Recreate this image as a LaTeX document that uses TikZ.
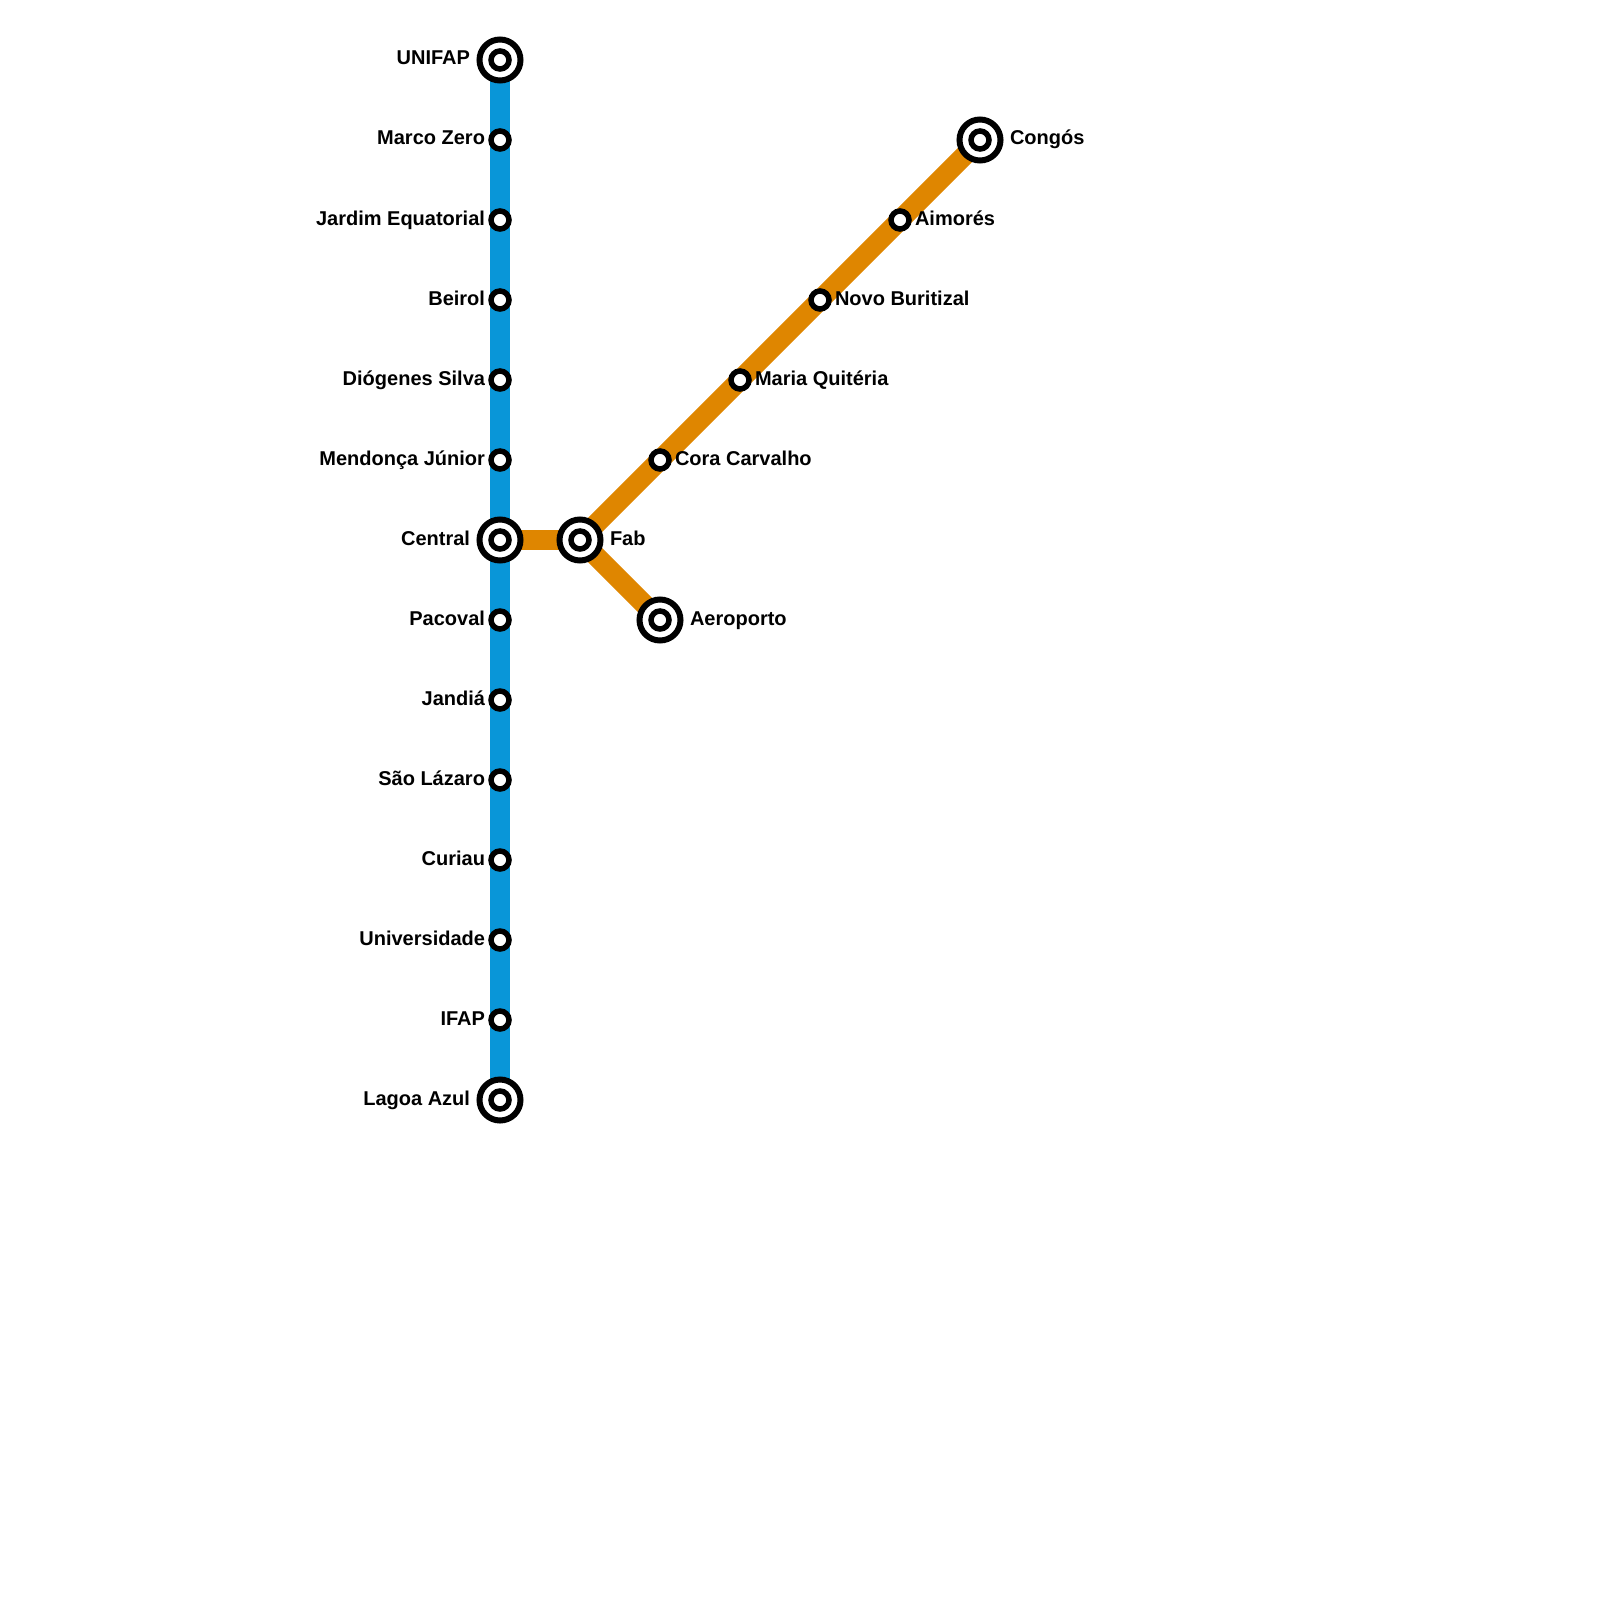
\documentclass[tikz,border=0pt]{standalone}
\usepackage{fontspec}
\setmainfont{Liberation Sans}
\usetikzlibrary{backgrounds}
\definecolor{lineblue}{HTML}{0996D8}
\definecolor{lineorange}{HTML}{DF8600}
\tikzset{
  small station/.style={circle,draw=black,fill=white,line width=5.5pt,minimum size=18pt,inner sep=0pt,outer sep=0pt},
  big station/.style={circle,draw=black,fill=white,line width=6pt,minimum size=41pt,inner sep=0pt,outer sep=0pt},
  big core/.style={circle,draw=black,fill=white,line width=5.5pt,minimum size=18pt,inner sep=0pt,outer sep=0pt},
  lab/.style={font=\bfseries\fontsize{20pt}{24pt}\selectfont,inner sep=0pt,outer sep=0pt,text=black},
  lableft/.style={lab,anchor=base east},
  labright/.style={lab,anchor=base west},
  blue line/.style={draw=lineblue,line width=20pt},
  orange line/.style={draw=lineorange,line width=20pt}
}
\newcommand{\smallst}[3]{\node[small station] (#1) at (#2,#3) {};}
\newcommand{\bigst}[3]{\node[big station] (#1) at (#2,#3) {}; \node[big core] (#1-core) at (#2,#3) {};}
\begin{document}
\begin{tikzpicture}[x=1pt,y=-1pt]
\useasboundingbox (0,0) rectangle (1600,1600);
\bigst{unifap}{500}{60}
\smallst{marco}{500}{140}
\smallst{jardim}{500}{220}
\smallst{beirol}{500}{300}
\smallst{diogenes}{500}{380}
\smallst{mendonca}{500}{460}
\bigst{central}{500}{540}
\smallst{pacoval}{500}{620}
\smallst{jandia}{500}{700}
\smallst{saolazaro}{500}{780}
\smallst{curiau}{500}{860}
\smallst{univ}{500}{940}
\smallst{ifap}{500}{1020}
\bigst{lagoa}{500}{1100}
\bigst{fab}{580}{540}
\bigst{aeroporto}{660}{620}
\smallst{cora}{660}{460}
\smallst{maria}{740}{380}
\smallst{novo}{820}{300}
\smallst{aimores}{900}{220}
\bigst{congos}{980}{140}
\begin{pgfonlayer}{background}
\draw[blue line] (unifap.center) -- (lagoa.center);
\draw[orange line] (central.center) -- (fab.center);
\draw[orange line] (fab.center) -- (aeroporto.center);
\draw[orange line] (fab.center) -- (congos.center);
\end{pgfonlayer}
\node[lableft] (l-unifap) at (470,65) {UNIFAP};
\node[lableft] (l-marco) at (485,145) {Marco Zero};
\node[lableft] (l-jardim) at (485,225) {Jardim Equatorial};
\node[lableft] (l-beirol) at (485,305) {Beirol};
\node[lableft] (l-diogenes) at (485,385) {Diógenes Silva};
\node[lableft] (l-mendonca) at (485,465) {Mendonça Júnior};
\node[lableft] (l-central) at (470,545) {Central};
\node[lableft] (l-pacoval) at (485,625) {Pacoval};
\node[lableft] (l-jandia) at (485,705) {Jandiá};
\node[lableft] (l-saolazaro) at (485,785) {São Lázaro};
\node[lableft] (l-curiau) at (485,865) {Curiau};
\node[lableft] (l-univ) at (485,945) {Universidade};
\node[lableft] (l-ifap) at (485,1025) {IFAP};
\node[lableft] (l-lagoa) at (470,1105) {Lagoa Azul};
\node[labright] (l-fab) at (610,545) {Fab};
\node[labright] (l-aeroporto) at (690,625) {Aeroporto};
\node[labright] (l-cora) at (675,465) {Cora Carvalho};
\node[labright] (l-maria) at (755,385) {Maria Quitéria};
\node[labright] (l-novo) at (835,305) {Novo Buritizal};
\node[labright] (l-aimores) at (915,225) {Aimorés};
\node[labright] (l-congos) at (1010,145) {Congós};
\end{tikzpicture}
\end{document}
